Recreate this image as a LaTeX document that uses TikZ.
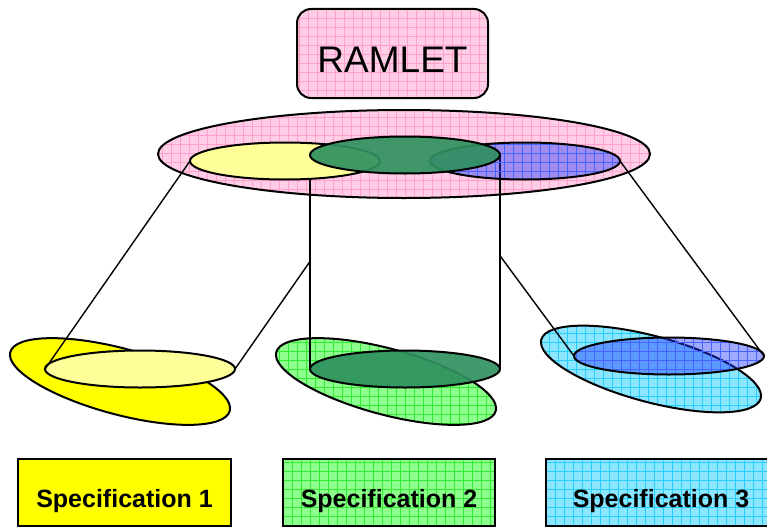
\documentclass[tikz,border=0pt]{standalone}
\usepackage{fontspec}
\setmainfont{Liberation Sans}
\usetikzlibrary{calc}

% fill a closed path, lay a square grid over it, then stroke its outline
\newcommand\gridshape[4]{%
  \fill[#1,#3] #4;
  \begin{scope}
    \clip #4;
    \draw[#2,line width=0.55pt,step=9pt] (-10,-10) grid (780,540);
  \end{scope}
  \draw[outl] #4;
}

\definecolor{pinkfill}{RGB}{255,206,230}
\definecolor{pinkgrid}{RGB}{255,160,205}
\definecolor{paleyellow}{RGB}{255,255,153}
\definecolor{brightyellow}{RGB}{255,255,0}
\definecolor{darkgreen}{RGB}{48,145,95}
\definecolor{lightgreen}{RGB}{140,255,140}
\definecolor{greengrid}{RGB}{50,235,50}
\definecolor{skyfill}{RGB}{140,230,255}
\definecolor{skygrid}{RGB}{40,205,255}
\definecolor{bluefill}{RGB}{30,50,255}
\definecolor{bluegrid}{RGB}{70,100,255}

\begin{document}
\begin{tikzpicture}[x=1pt,y=-1pt,
  outl/.style={draw=black,line width=2pt},
  link/.style={draw=black,line width=1.4pt},
  gridbox/.style 2 args={draw=black,line width=2pt,fill=#1,
    path picture={\draw[#2,line width=0.55pt,step=9pt]
      (path picture bounding box.south west) grid (path picture bounding box.north east);}},
  spec/.style={rectangle,minimum height=67pt,inner sep=0pt,
    font=\fontsize{25}{25}\selectfont\bfseries,text height=34pt,text depth=4pt}]
\useasboundingbox (0,0) rectangle (767,527);

% ---- tilted specification discs ----
\draw[outl,fill=brightyellow] [rotate around={-15:(120,381.5)}] (120,381.5) ellipse [x radius=113.6pt, y radius=33pt];
\gridshape{lightgreen}{greengrid}{}{[rotate around={-15:(386,381.5)}] (386,381.5) ellipse [x radius=113.6pt, y radius=33pt]}
\gridshape{skyfill}{skygrid}{}{[rotate around={-15:(651,369)}] (651,369) ellipse [x radius=113.6pt, y radius=33pt]}

% ---- projected subsets on each specification ----
\draw[outl,fill=paleyellow] (140,369) ellipse [x radius=95pt, y radius=18.5pt];
\fill[darkgreen,fill opacity=0.92] (405,369) ellipse [x radius=95pt, y radius=18.5pt];
\draw[outl] (405,369) ellipse [x radius=95pt, y radius=18.5pt];
\gridshape{bluefill}{bluegrid}{fill opacity=0.42}{(669,356) ellipse [x radius=95pt, y radius=18.5pt]}

% ---- RAMLET model ----
\gridshape{pinkfill}{pinkgrid}{}{(404,154) ellipse [x radius=246pt, y radius=44pt]}

% end points of the subsets
\coordinate (yTopL) at (190,161);
\coordinate (yTopR) at (380,161);
\coordinate (yBotL) at (45,369);
\coordinate (yBotR) at (235,369);
\coordinate (bTopL) at (430,161);
\coordinate (bTopR) at (620,161);
\coordinate (bBotL) at (574,356);
\coordinate (bBotR) at (764,356);
\coordinate (gTopL) at (310,155);
\coordinate (gTopR) at (500,155);
\coordinate (gBotL) at (310,369);
\coordinate (gBotR) at (500,369);
% where the inner projection lines leave the cylinder
\coordinate (yHid) at ($(yTopR)!0.4828!(yBotR)$);
\coordinate (bHid) at ($(bTopL)!0.486!(bBotL)$);

\draw[link] (yTopL) -- (yBotL);
\draw[link] (yHid) -- (yBotR);
\draw[link] (bHid) -- (bBotL);
\draw[link] (bTopR) -- (bBotR);
\draw[link] (gTopL) -- (gBotL);
\draw[link] (gTopR) -- (gBotR);

\draw[outl,fill=paleyellow] (285,161) ellipse [x radius=95pt, y radius=18.5pt];
\gridshape{bluefill}{bluegrid}{fill opacity=0.42}{(525,161) ellipse [x radius=95pt, y radius=18.5pt]}
\fill[darkgreen,fill opacity=0.92] (405,155) ellipse [x radius=95pt, y radius=18.5pt];
\draw[outl] (405,155) ellipse [x radius=95pt, y radius=18.5pt];

% ---- labels ----
\node[gridbox={pinkfill}{pinkgrid},rounded corners=14pt,minimum width=191pt,minimum height=89pt,
  inner sep=0pt,font=\fontsize{37}{37}\selectfont,text height=37pt,text depth=0pt]
  (ramlet) at (392.5,53.5) {RAMLET};

\node[spec,draw=black,line width=2pt,fill=brightyellow,minimum width=213pt] (spec1) at (124.5,492.5) {Specification 1};
\node[spec,gridbox={lightgreen}{greengrid},minimum width=212pt] (spec2) at (389,492.5) {Specification 2};
\node[spec,gridbox={skyfill}{skygrid},minimum width=230pt] (spec3) at (661,492.5) {Specification 3};
\end{tikzpicture}
\end{document}
